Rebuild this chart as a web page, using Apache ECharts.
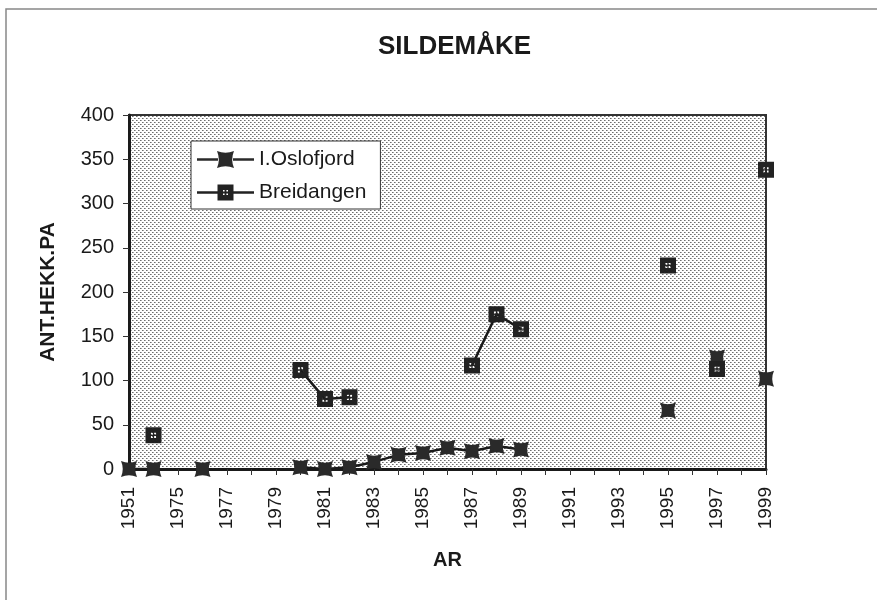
<!DOCTYPE html>
<html>
<head>
<meta charset="utf-8">
<script src="https://cdn.jsdelivr.net/npm/echarts@6/dist/echarts.min.js"></script>
<style>html,body{margin:0;padding:0;background:#fff;}#c{width:877px;height:600px;}</style>
</head>
<body>
<div id="c"></div>
<script>
var years = ['1951','1974','1975','1976','1977','1978','1979','1980','1981','1982','1983','1984','1985','1986','1987','1988','1989','1990','1991','1992','1993','1994','1995','1996','1997','1998','1999'];
var oslofjord = [0,0,null,0,null,null,null,2,0,2,8,16,18,24,20,26,22,null,null,null,null,null,66,null,126,null,102];
var breidangen = [null,38,null,null,null,null,null,112,79,81,null,null,null,null,117,175,158,null,null,null,null,null,230,null,113,null,338];
var yTicks = [0,50,100,150,200,250,300,350,400];

var pc = document.createElement('canvas');
pc.width = 4; pc.height = 4;
var pctx = pc.getContext('2d');
pctx.fillStyle = '#ffffff'; pctx.fillRect(0,0,4,4);
pctx.fillStyle = '#6e6e6e';
pctx.fillRect(0,0,1,1); pctx.fillRect(2,2,1,1);
pctx.fillStyle = '#a8a8a8';
pctx.fillRect(1,0,1,1); pctx.fillRect(3,2,1,1);

var bowtie = 'path://M0,0 Q5,2.2 10,0 Q7.8,5 10,10 Q5,7.8 0,10 Q2.2,5 0,0 Z';
var dotted = 'path://M0,0 H10 V10 H0 Z M3.4,3.4 V4.6 H4.6 V3.4 Z M5.4,3.4 V4.6 H6.6 V3.4 Z M3.4,5.4 V6.6 H4.6 V5.4 Z M5.4,5.4 V6.6 H6.6 V5.4 Z';
var legBowtie = 'path://M0,7.3 H21 V9.7 H0 Z M36,7.3 H57 V9.7 H36 Z M20,0 Q28.5,3.5 37,0 Q33.4,8.5 37,17 Q28.5,13.5 20,17 Q23.6,8.5 20,0 Z';
var legDotted = 'path://M0,7.3 H21 V9.7 H0 Z M36,7.3 H57 V9.7 H36 Z M20.5,0.5 H36.5 V16.5 H20.5 Z M26,6 V7.6 H27.6 V6 Z M29.4,6 V7.6 H31 V6 Z M26,9.4 V11 H27.6 V9.4 Z M29.4,9.4 V11 H31 V9.4 Z';

var chart = echarts.init(document.getElementById('c'), null, {renderer:'canvas'});
chart.setOption({
  backgroundColor: '#ffffff',
  animation: false,
  textStyle: {fontFamily: 'Liberation Sans, Arial, sans-serif'},
  title: {
    text: 'SILDEMÅKE', left: 373, top: 29,
    textStyle: {fontSize: 26, fontWeight: 'bold', color: '#1a1a1a', fontFamily: 'Liberation Sans, Arial, sans-serif'}
  },
  graphic: [{
    type: 'rect', shape: {x: 6, y: 9, width: 880, height: 600},
    style: {fill: 'none', stroke: '#888', lineWidth: 1.5}, z: 100
  }],
  legend: {
    left: 191, top: 141, orient: 'vertical',
    itemWidth: 57, itemHeight: 17, itemGap: 12,
    padding: [8, 14, 6, 6],
    symbolKeepAspect: true,
    backgroundColor: '#ffffff', borderColor: '#333', borderWidth: 1,
    textStyle: {fontSize: 21, color: '#1a1a1a', fontFamily: 'Liberation Sans, Arial, sans-serif'},
    data: [{name: 'I.Oslofjord', icon: legBowtie}, {name: 'Breidangen', icon: legDotted}]
  },
  grid: {
    left: 129, right: 111, top: 115, bottom: 131,
    show: true, backgroundColor: {image: pc, repeat: 'repeat'},
    borderColor: '#333', borderWidth: 2
  },
  xAxis: {
    type: 'category', data: years, boundaryGap: false,
    name: 'AR', nameLocation: 'middle', nameGap: 81,
    nameTextStyle: {fontSize: 20, fontWeight: 'bold', color: '#1a1a1a'},
    axisLine: {lineStyle: {color: '#1a1a1a', width: 3}},
    axisTick: {show: true, interval: 0, length: 6, lineStyle: {color: '#333', width: 1}},
    axisLabel: {interval: 1, rotate: 90, fontSize: 19, color: '#1a1a1a', margin: 18},
    splitLine: {show: false}
  },
  yAxis: {
    type: 'value', min: 0, max: 400, interval: 50,
    name: 'ANT.HEKK.PA', nameLocation: 'middle', nameGap: 70,
    nameTextStyle: {fontSize: 21, fontWeight: 'bold', color: '#1a1a1a'},
    axisLine: {show: true, lineStyle: {color: '#1a1a1a', width: 3}},
    axisTick: {show: true, length: 6, lineStyle: {color: '#333', width: 1}},
    axisLabel: {fontSize: 20, color: '#1a1a1a', margin: 15,
      formatter: function(v){ return yTicks.indexOf(v) >= 0 ? String(v) : ''; }},
    splitLine: {show: false}
  },
  series: [{
    name: 'I.Oslofjord', type: 'line', data: oslofjord, connectNulls: false,
    symbol: bowtie, symbolSize: 16, showAllSymbol: true, z: 3,
    itemStyle: {color: '#2a2a2a'},
    lineStyle: {color: '#1a1a1a', width: 2.5}
  }, {
    name: 'Breidangen', type: 'line', data: breidangen, connectNulls: false,
    symbol: dotted, symbolSize: 16, showAllSymbol: true, z: 4,
    itemStyle: {color: '#222222'},
    lineStyle: {color: '#1a1a1a', width: 2.5}
  }]
});
</script>
</body>
</html>
